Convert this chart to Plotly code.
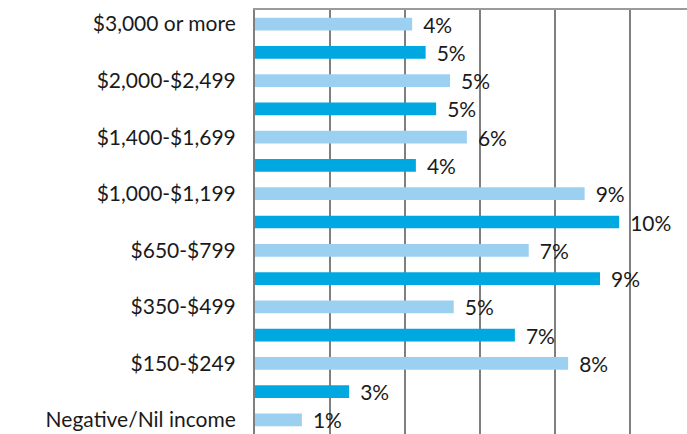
import plotly.graph_objects as go

categories = [
    "$3,000 or more", "$2,500-$2,999", "$2,000-$2,499", "$1,700-$1,999",
    "$1,400-$1,699", "$1,200-$1,399", "$1,000-$1,199", "$800-$999",
    "$650-$799", "$500-$649", "$350-$499", "$250-$349",
    "$150-$249", "$1-$149", "Negative/Nil income",
]
values = [4.19, 4.55, 5.2, 4.83, 5.65, 4.29, 8.79, 9.71,
          7.3, 9.2, 5.3, 6.93, 8.35, 2.51, 1.25]
shown_labels = [c for i, c in enumerate(categories) if i % 2 == 0]

LIGHT = "#9bd0f0"
DARK = "#00a8e1"
colors = [LIGHT if i % 2 == 0 else DARK for i in range(len(categories))]

FONT = "Lato, 'Open Sans', sans-serif"

fig = go.Figure(go.Bar(
    y=categories, x=values, orientation="h",
    marker=dict(color=colors, line=dict(width=0)),
    width=0.45,
    texttemplate="\u00a0\u2009%{x:.0f}%", textposition="outside",
    constraintext="none",
    textfont=dict(family=FONT, size=21, color="#1a1a1a"),
    cliponaxis=False,
    hoverinfo="skip",
))

fig.update_layout(
    width=687, height=434,
    margin=dict(l=255, r=0, t=10, b=0, autoexpand=False),
    paper_bgcolor="white", plot_bgcolor="white",
    showlegend=False,
    font=dict(family=FONT, size=21, color="#1a1a1a"),
    xaxis=dict(
        range=[0, 11.52], dtick=2, tick0=0, side="top",
        showticklabels=False, ticks="",
        showgrid=True, gridcolor="#7f7f7f", gridwidth=2,
        zeroline=False, automargin=False,
        showline=True, linecolor="#9a9a9a", linewidth=2,
        fixedrange=True,
    ),
    yaxis=dict(
        categoryorder="array", categoryarray=categories,
        autorange="reversed", automargin=False,
        tickmode="array", tickvals=shown_labels, ticktext=shown_labels,
        ticks="", ticklabelstandoff=13,
        showline=True, linecolor="#7f7f7f", linewidth=2,
        showgrid=False, zeroline=False,
        fixedrange=True,
    ),
)

fig.write_html(
    "out.html",
    config={"displayModeBar": False, "staticPlot": True},
    post_script="document.body.style.margin='0';document.body.style.overflow='hidden';",
)
